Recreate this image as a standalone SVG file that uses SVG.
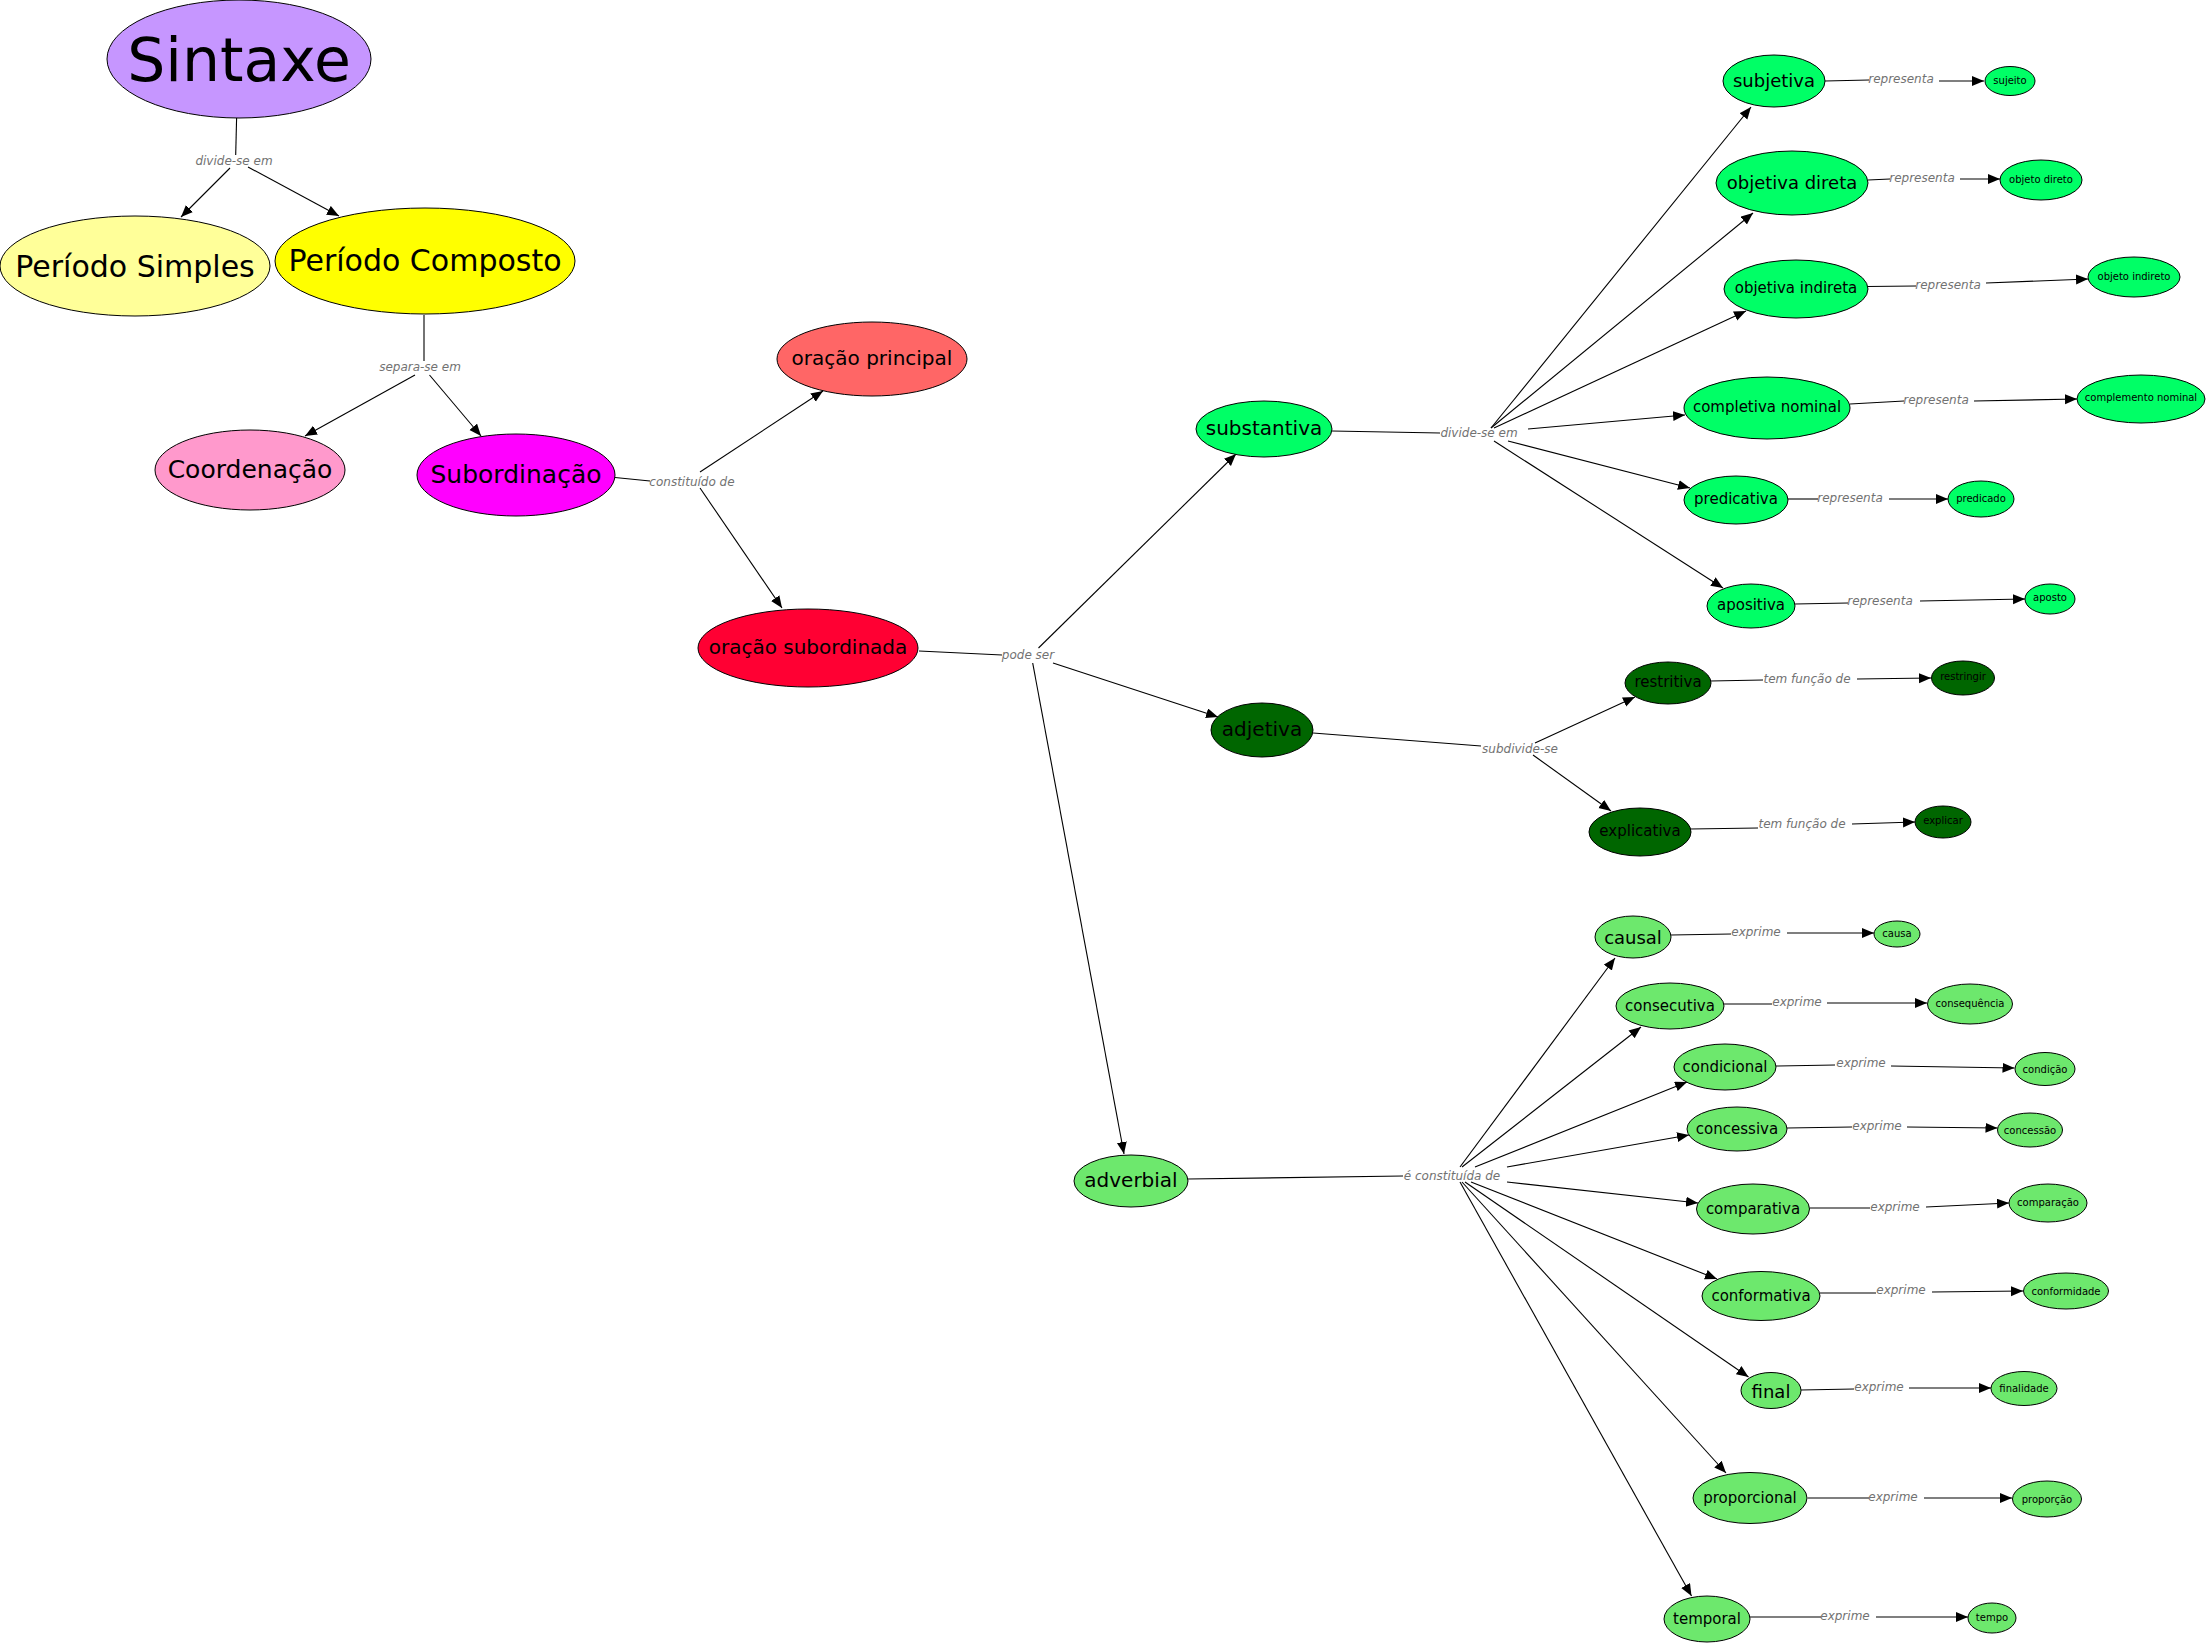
<svg xmlns="http://www.w3.org/2000/svg" width="2209" height="1644" viewBox="0 0 2209 1644">
<style>
.n ellipse{stroke:#000;stroke-width:1}
.n text{font-family:"DejaVu Sans",sans-serif;fill:#000;text-anchor:middle;dominant-baseline:central}
.lbl{font-family:"DejaVu Sans",sans-serif;font-style:italic;font-size:12px;fill:#727272;text-anchor:middle;dominant-baseline:central}
#connectors path{stroke:#000;stroke-width:1.1;fill:none}
#connectors path.a{marker-end:url(#arr)}
.sub{fill:#00FF66}.adj{fill:#006600}.adv{fill:#6DE86D}
</style>
<defs>
<marker id="arr" markerUnits="userSpaceOnUse" markerWidth="13" markerHeight="11" refX="12" refY="5" orient="auto">
<path d="M0,0 L12,5 L0,10 z" fill="#000"/>
</marker>
</defs>
<rect width="2209" height="1644" fill="#fff"/>
<g id="connectors">
<path d="M236.6,118 L235.7,155"/>
<path class="a" d="M230,168 L181,217"/>
<path class="a" d="M248,167 L339,216"/>
<path d="M424,315 L424,361"/>
<path class="a" d="M415,375 L305,436"/>
<path class="a" d="M429.5,375 L481,436"/>
<path d="M615,477.5 L650,481"/>
<path class="a" d="M700,472 L823,391"/>
<path class="a" d="M700,488 L782,608"/>
<path d="M919,651 L1002,655"/>
<path class="a" d="M1038.5,648 L1236,454"/>
<path class="a" d="M1053,663 L1218,717"/>
<path class="a" d="M1032.7,663 L1124,1154"/>
<path d="M1332,431 L1440,433"/>
<path class="a" d="M1491,428 L1751,107"/>
<path class="a" d="M1491,428 L1753,213"/>
<path class="a" d="M1494,428 L1746,311"/>
<path class="a" d="M1528,429 L1685,415"/>
<path class="a" d="M1508,441 L1690,488"/>
<path class="a" d="M1494,441 L1723,588"/>
<path d="M1825,81 L1869,80"/><path class="a" d="M1939,81 L1984,81"/>
<path d="M1868,180 L1890,179"/><path class="a" d="M1960,179 L2000,179"/>
<path d="M1867,286.5 L1916,286"/><path class="a" d="M1986,283 L2088,279"/>
<path d="M1850,404 L1904,401"/><path class="a" d="M1974,401 L2077,399"/>
<path d="M1788,499 L1818,499"/><path class="a" d="M1889,499 L1948,499"/>
<path d="M1795,604 L1848,603"/><path class="a" d="M1920,601 L2025,599"/>
<path d="M1313,733 L1481,746"/>
<path class="a" d="M1535,743 L1635,697"/>
<path class="a" d="M1533,755 L1611,811"/>
<path d="M1710.5,681 L1763,680"/><path class="a" d="M1857,679 L1931,678"/>
<path d="M1690,829 L1758,828"/><path class="a" d="M1852,824 L1915,822"/>
<path d="M1188,1179 L1403,1176"/>
<path class="a" d="M1460,1167 L1615,958"/>
<path class="a" d="M1462,1167 L1641,1027"/>
<path class="a" d="M1475,1167 L1687,1082"/>
<path class="a" d="M1507,1167 L1689,1135"/>
<path class="a" d="M1507,1182 L1698,1203"/>
<path class="a" d="M1471,1182 L1717,1279"/>
<path class="a" d="M1465,1182 L1748.5,1377"/>
<path class="a" d="M1462,1182 L1726,1473"/>
<path class="a" d="M1460,1182 L1691.5,1596"/>
<path d="M1671,935 L1731,934"/><path class="a" d="M1787,933 L1874,933"/>
<path d="M1724,1004 L1772,1004"/><path class="a" d="M1827,1003 L1927,1003"/>
<path d="M1776,1066 L1835,1065"/><path class="a" d="M1891,1066 L2014.5,1068"/>
<path d="M1787,1128 L1852,1127"/><path class="a" d="M1907,1127 L1997.5,1128"/>
<path d="M1810,1208 L1870,1208"/><path class="a" d="M1926,1207 L2009,1203"/>
<path d="M1820,1293 L1876,1293"/><path class="a" d="M1932,1292 L2023,1291"/>
<path d="M1801,1390 L1854,1389"/><path class="a" d="M1909,1388 L1991,1388"/>
<path d="M1807.6,1498 L1869,1498"/><path class="a" d="M1924,1498 L2012,1498"/>
<path d="M1750,1617 L1821,1617"/><path class="a" d="M1876,1617 L1968,1617"/>
</g>
<g id="labels">
<text class="lbl" x="234" y="161">divide-se em</text>
<text class="lbl" x="420" y="367">separa-se em</text>
<text class="lbl" x="692" y="482">constituído de</text>
<text class="lbl" x="1028" y="655">pode ser</text>
<text class="lbl" x="1479" y="433">divide-se em</text>
<text class="lbl" x="1520" y="749">subdivide-se</text>
<text class="lbl" x="1452" y="1176">é constituída de</text>
<text class="lbl" x="1901" y="79">representa</text>
<text class="lbl" x="1922" y="178">representa</text>
<text class="lbl" x="1948" y="285">representa</text>
<text class="lbl" x="1936" y="400">representa</text>
<text class="lbl" x="1850" y="498">representa</text>
<text class="lbl" x="1880" y="601">representa</text>
<text class="lbl" x="1807" y="679">tem função de</text>
<text class="lbl" x="1802" y="824">tem função de</text>
<text class="lbl" x="1756" y="932">exprime</text>
<text class="lbl" x="1797" y="1002">exprime</text>
<text class="lbl" x="1861" y="1063">exprime</text>
<text class="lbl" x="1877" y="1126">exprime</text>
<text class="lbl" x="1895" y="1207">exprime</text>
<text class="lbl" x="1901" y="1290">exprime</text>
<text class="lbl" x="1879" y="1387">exprime</text>
<text class="lbl" x="1893" y="1497">exprime</text>
<text class="lbl" x="1845" y="1616">exprime</text>
</g>
<g id="sintaxe" class="n"><ellipse cx="239" cy="59" rx="132" ry="59" fill="#C696FF"/><text x="239" y="60" font-size="60">Sintaxe</text></g>
<g id="periodo-simples" class="n"><ellipse cx="135" cy="266" rx="135" ry="50" fill="#FFFF99"/><text x="135" y="266" font-size="30">Período Simples</text></g>
<g id="periodo-composto" class="n"><ellipse cx="425" cy="261" rx="150" ry="53" fill="#FFFF00"/><text x="425" y="260" font-size="30">Período Composto</text></g>
<g id="coordenacao" class="n"><ellipse cx="250" cy="470" rx="95" ry="40" fill="#FF99CC"/><text x="250" y="469" font-size="25">Coordenação</text></g>
<g id="subordinacao" class="n"><ellipse cx="516" cy="475" rx="99" ry="41" fill="#FF00FF"/><text x="516" y="474" font-size="25">Subordinação</text></g>
<g id="oracao-principal" class="n"><ellipse cx="872" cy="359" rx="95" ry="37" fill="#FF6666"/><text x="872" y="358" font-size="20">oração principal</text></g>
<g id="oracao-subordinada" class="n"><ellipse cx="808" cy="648" rx="110" ry="39" fill="#FF0033"/><text x="808" y="647" font-size="20">oração subordinada</text></g>
<g id="substantiva" class="n"><ellipse class="sub" cx="1264" cy="429" rx="68" ry="28"/><text x="1264" y="428" font-size="20">substantiva</text></g>
<g id="adjetiva" class="n"><ellipse class="adj" cx="1262" cy="730" rx="51" ry="27"/><text x="1262" y="729" font-size="20">adjetiva</text></g>
<g id="adverbial" class="n"><ellipse class="adv" cx="1131" cy="1181" rx="57" ry="26"/><text x="1131" y="1180" font-size="20">adverbial</text></g>
<g id="subjetiva" class="n"><ellipse class="sub" cx="1774" cy="81" rx="51" ry="26"/><text x="1774" y="80" font-size="18">subjetiva</text></g>
<g id="sujeito" class="n"><ellipse class="sub" cx="2010" cy="81" rx="25" ry="14.5"/><text x="2010" y="80" font-size="10">sujeito</text></g>
<g id="objetiva-direta" class="n"><ellipse class="sub" cx="1792" cy="183" rx="76" ry="32"/><text x="1792" y="182" font-size="18">objetiva direta</text></g>
<g id="objeto-direto" class="n"><ellipse class="sub" cx="2041" cy="180" rx="41" ry="20"/><text x="2041" y="179" font-size="10">objeto direto</text></g>
<g id="objetiva-indireta" class="n"><ellipse class="sub" cx="1796" cy="289" rx="72" ry="29"/><text x="1796" y="288" font-size="15">objetiva indireta</text></g>
<g id="objeto-indireto" class="n"><ellipse class="sub" cx="2134" cy="277" rx="46" ry="20"/><text x="2134" y="276" font-size="10">objeto indireto</text></g>
<g id="completiva-nominal" class="n"><ellipse class="sub" cx="1767" cy="408" rx="83" ry="31"/><text x="1767" y="407" font-size="15">completiva nominal</text></g>
<g id="complemento-nominal" class="n"><ellipse class="sub" cx="2141" cy="399" rx="64" ry="24"/><text x="2141" y="397" font-size="10">complemento nominal</text></g>
<g id="predicativa" class="n"><ellipse class="sub" cx="1736" cy="500" rx="52" ry="24"/><text x="1736" y="499" font-size="15">predicativa</text></g>
<g id="predicado" class="n"><ellipse class="sub" cx="1981" cy="499" rx="33" ry="18"/><text x="1981" y="498" font-size="10">predicado</text></g>
<g id="apositiva" class="n"><ellipse class="sub" cx="1751" cy="606" rx="44" ry="22"/><text x="1751" y="605" font-size="15">apositiva</text></g>
<g id="aposto" class="n"><ellipse class="sub" cx="2050" cy="599" rx="25" ry="15"/><text x="2050" y="597" font-size="10">aposto</text></g>
<g id="restritiva" class="n"><ellipse class="adj" cx="1668" cy="683" rx="43" ry="21"/><text x="1668" y="682" font-size="15">restritiva</text></g>
<g id="restringir" class="n"><ellipse class="adj" cx="1963" cy="678" rx="31.5" ry="17"/><text x="1963" y="676" font-size="10">restringir</text></g>
<g id="explicativa" class="n"><ellipse class="adj" cx="1640" cy="832" rx="51" ry="24"/><text x="1640" y="831" font-size="15">explicativa</text></g>
<g id="explicar" class="n"><ellipse class="adj" cx="1943" cy="822" rx="28" ry="16"/><text x="1943" y="820" font-size="10">explicar</text></g>
<g id="causal" class="n"><ellipse class="adv" cx="1633" cy="937" rx="38" ry="21"/><text x="1633" y="937" font-size="18">causal</text></g>
<g id="causa" class="n"><ellipse class="adv" cx="1897" cy="934" rx="23" ry="13"/><text x="1897" y="933" font-size="10">causa</text></g>
<g id="consecutiva" class="n"><ellipse class="adv" cx="1670" cy="1006" rx="54" ry="23"/><text x="1670" y="1006" font-size="15">consecutiva</text></g>
<g id="consequencia" class="n"><ellipse class="adv" cx="1970" cy="1004" rx="42.5" ry="20"/><text x="1970" y="1003" font-size="10">consequência</text></g>
<g id="condicional" class="n"><ellipse class="adv" cx="1725" cy="1067" rx="51" ry="23"/><text x="1725" y="1067" font-size="15">condicional</text></g>
<g id="condicao" class="n"><ellipse class="adv" cx="2045" cy="1069" rx="30" ry="16.5"/><text x="2045" y="1069" font-size="10">condição</text></g>
<g id="concessiva" class="n"><ellipse class="adv" cx="1737" cy="1129" rx="50" ry="22"/><text x="1737" y="1129" font-size="15">concessiva</text></g>
<g id="concessao" class="n"><ellipse class="adv" cx="2030" cy="1130" rx="32.5" ry="17"/><text x="2030" y="1130" font-size="10">concessão</text></g>
<g id="comparativa" class="n"><ellipse class="adv" cx="1753" cy="1209" rx="56.5" ry="25"/><text x="1753" y="1209" font-size="15">comparativa</text></g>
<g id="comparacao" class="n"><ellipse class="adv" cx="2048" cy="1203" rx="39" ry="19"/><text x="2048" y="1202" font-size="10">comparação</text></g>
<g id="conformativa" class="n"><ellipse class="adv" cx="1761" cy="1296" rx="59" ry="24.5"/><text x="1761" y="1296" font-size="15">conformativa</text></g>
<g id="conformidade" class="n"><ellipse class="adv" cx="2066" cy="1291" rx="42.5" ry="18"/><text x="2066" y="1291" font-size="10">conformidade</text></g>
<g id="final" class="n"><ellipse class="adv" cx="1771" cy="1390.5" rx="30" ry="18"/><text x="1771" y="1391" font-size="18">final</text></g>
<g id="finalidade" class="n"><ellipse class="adv" cx="2024" cy="1388.5" rx="33" ry="17"/><text x="2024" y="1388" font-size="10">finalidade</text></g>
<g id="proporcional" class="n"><ellipse class="adv" cx="1750" cy="1498" rx="57" ry="25.5"/><text x="1750" y="1498" font-size="15">proporcional</text></g>
<g id="proporcao" class="n"><ellipse class="adv" cx="2047" cy="1499" rx="34.5" ry="18"/><text x="2047" y="1499" font-size="10">proporção</text></g>
<g id="temporal" class="n"><ellipse class="adv" cx="1707" cy="1619" rx="43" ry="23"/><text x="1707" y="1619" font-size="15">temporal</text></g>
<g id="tempo" class="n"><ellipse class="adv" cx="1992" cy="1618" rx="24" ry="15"/><text x="1992" y="1617" font-size="10">tempo</text></g>
</svg>
